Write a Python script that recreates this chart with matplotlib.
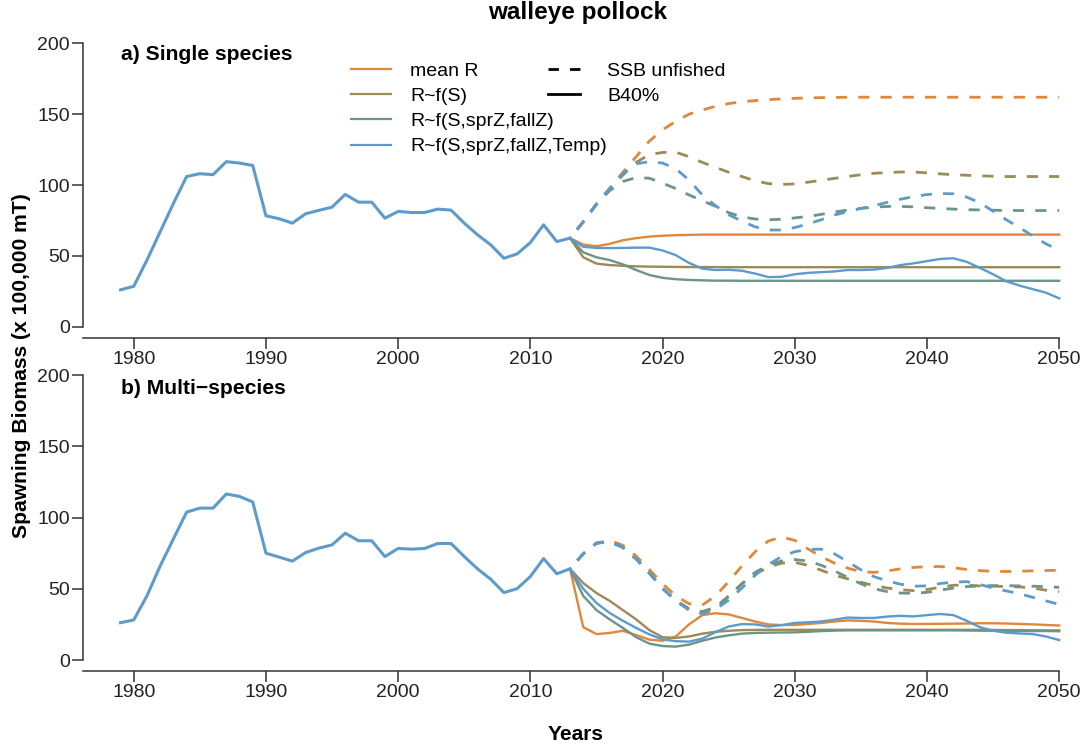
import matplotlib
matplotlib.use("Agg")
import matplotlib.pyplot as plt
from matplotlib.lines import Line2D

plt.rcParams["font.family"] = ["Liberation Sans", "DejaVu Sans"]
plt.rcParams["lines.scale_dashes"] = False

# ── data (spawning biomass, x 100,000 mT) ─────────────────────────────────────
HIST_YEARS = list(range(1979, 2014))
PROJ_YEARS = list(range(2013, 2051))

LABELS = ["mean R", "R~f(S)", "R~f(S,sprZ,fallZ)", "R~f(S,sprZ,fallZ,Temp)"]
COLORS = ["#E0883A", "#9C8A57", "#6C9488", "#5D9BCB"]

# a) single species
ss_hist = [26, 28.5, 47, 67, 87, 106, 108, 107.3, 116.5, 115.5,
           113.8, 78.3, 76.2, 73.1, 79.7, 82.1, 84.4, 93.4, 87.9, 87.9,
           76.6, 81.4, 80.6, 80.6, 83, 82.3, 73.1, 64.9, 57.8, 48.3,
           51.4, 59.4, 71.9, 60.1, 62.5]

ss_meanR_b40 = [62.5, 58, 56.8, 58.5, 61, 62.5, 63.6, 64.2, 64.6, 64.8,
                65, 65, 65, 65, 65, 65, 65, 65, 65, 65,
                65, 65, 65, 65, 65, 65, 65, 65, 65, 65,
                65, 65, 65, 65, 65, 65, 65, 65]
ss_rs_b40 = [62.5, 49, 44.5, 43.5, 43, 42.6, 42.4, 42.3, 42.2, 42.1,
             42.1, 42.1, 42, 42, 42, 42, 42, 42, 42, 42,
             42, 42, 42, 42, 42, 42, 42, 42, 42, 42,
             42, 42, 42, 42, 42, 42, 42, 42]
ss_rsz_b40 = [62.5, 52.5, 49, 47, 44, 40, 36.5, 34.5, 33.5, 33,
              32.7, 32.5, 32.5, 32.4, 32.4, 32.4, 32.4, 32.4, 32.4, 32.4,
              32.4, 32.4, 32.4, 32.4, 32.4, 32.4, 32.4, 32.4, 32.4, 32.4,
              32.4, 32.4, 32.4, 32.4, 32.4, 32.4, 32.4, 32.4]
ss_rszt_b40 = [62.5, 56.4, 55.6, 55.5, 55.6, 55.8, 55.8, 53.8, 50.5, 45,
               41, 40, 40.2, 39.5, 37.5, 35, 35.2, 37, 38, 38.5,
               39, 40, 40, 40.3, 41.5, 43.5, 44.7, 46.3, 47.8, 48.3,
               45.8, 41.5, 37, 32, 29, 26.5, 24, 20]

ss_meanR_unf = [62.5, 74, 86.5, 97.5, 109, 120, 131, 139, 145, 150,
                153, 155.5, 157.5, 158.8, 159.6, 160.3, 160.8, 161.2, 161.5, 161.7,
                161.8, 162, 162, 162, 162, 162, 162, 162, 162, 162,
                162, 162, 162, 162, 162, 162, 162, 162]
ss_rs_unf = [62.5, 74, 86.5, 97.5, 107, 116, 121.5, 123, 123.2, 120,
             116, 112.5, 109, 106, 103, 101, 100.4, 100.8, 102, 103.3,
             104.7, 106, 107.3, 108.3, 108.8, 109.2, 109.2, 108.6, 107.9, 107.3,
             106.9, 106.5, 106.2, 106, 106, 106, 106, 106]
ss_rsz_unf = [62.5, 74, 86.5, 96, 102.5, 105.3, 104.8, 101.3, 97.5, 93,
              89, 85, 80.5, 77.5, 76, 75.5, 75.8, 76.8, 77.8, 79.3,
              81, 82.3, 83.5, 84.4, 84.9, 84.9, 84.6, 84, 83.4, 83,
              82.6, 82.4, 82.2, 82.1, 82, 82, 82, 82]
ss_rszt_unf = [62.5, 74, 86.5, 97.5, 108.5, 115, 116.5, 115.5, 111.5, 103.5,
               93, 85.5, 79, 74.5, 70.5, 68.2, 68.3, 70, 72.5, 75.5,
               78.8, 81.3, 83.5, 85.5, 87.8, 90, 91.8, 93.3, 94, 93.8,
               91.5, 87.5, 81.5, 75.5, 70, 64, 58.5, 54]

# b) multi-species
ms_hist = [26.2, 28.1, 45, 66, 85, 103.8, 106.6, 106.6, 116.5, 114.8,
           110.9, 75, 72.2, 69.4, 75.4, 78.5, 80.8, 89, 83.7, 83.7,
           72.6, 78.3, 77.8, 78.3, 81.8, 81.8, 72.6, 64, 56.7, 47.3,
           50.1, 58.6, 71.2, 60.5, 64]

ms_meanR_b40 = [64, 23, 18.2, 19, 20.5, 17.5, 14.3, 13.5, 16.5, 25,
                31.5, 32.8, 32, 29.5, 27, 25, 24.5, 24.6, 25.3, 26,
                27, 27.8, 27.5, 27, 26, 25.5, 25.3, 25.3, 25.4, 25.5,
                25.6, 25.8, 25.8, 25.6, 25.3, 25, 24.6, 24.2]
ms_rs_b40 = [64, 54, 47, 41.5, 35, 28.5, 21, 16, 15.5, 16.5,
             18.5, 19.8, 20.5, 21, 21.1, 21.2, 21.2, 21.2, 21.2, 21.2,
             21.2, 21.2, 21.2, 21.2, 21.2, 21.2, 21.2, 21.2, 21.2, 21.2,
             21.2, 21.1, 21.1, 21, 21, 20.9, 20.8, 20.8]
ms_rsz_b40 = [64, 45, 35, 28.5, 22.5, 16, 11.5, 9.8, 9.4, 10.8,
              13.5, 15.8, 17.3, 18.5, 19, 19.2, 19.3, 19.4, 19.8, 20.3,
              20.6, 20.8, 20.8, 20.8, 20.8, 20.8, 20.8, 20.8, 20.8, 20.8,
              20.7, 20.6, 20.5, 20.4, 20.4, 20.3, 20.3, 20.2]
ms_rszt_b40 = [64, 50, 40, 33, 27.5, 22.5, 18, 14.5, 13.2, 12.9,
               15, 19.5, 23.5, 25.2, 25, 23.5, 24.5, 26, 26.5, 27,
               28.3, 29.8, 29.5, 29.5, 30.5, 31, 30.6, 31.5, 32.3, 31.5,
               27.5, 23, 20.5, 19.2, 18.6, 18.2, 16.5, 14]

ms_meanR_unf = [64, 74.5, 82, 84, 80.5, 73, 63.5, 53.5, 45, 39.5,
                38.5, 45, 55, 66, 76, 83.5, 86.3, 84, 78, 72.5,
                68, 64.5, 62, 61.5, 62.5, 64, 65, 65.5, 65.6, 64.8,
                63.5, 62.7, 62.3, 62.1, 62.3, 62.6, 62.8, 63]
ms_rs_unf = [64, 74.5, 82, 83.2, 79, 71, 61, 50.5, 42, 36,
             34, 37, 45, 53.5, 60.5, 65, 68, 68.5, 66.5, 63,
             59.5, 57, 54.5, 52.3, 50.5, 49.3, 48.7, 49.5, 51, 52.5,
             52.5, 52, 51.8, 51.6, 51.3, 50.5, 49, 48]
ms_rsz_unf = [64, 74.5, 82, 83, 79, 71, 61, 50, 41.5, 35.5,
              33.5, 36.5, 44.5, 53.5, 61.5, 66.5, 69.5, 70.5, 69.5, 66.5,
              62.5, 58, 53.5, 50, 48, 47, 46.8, 47.5, 49, 50.5,
              51.5, 52, 52.2, 52.2, 52, 51.8, 51.5, 51]
ms_rszt_unf = [64, 74.5, 82, 83, 79, 71, 61, 50.5, 41.5, 35,
               32.5, 35.5, 42, 50.5, 59.5, 67, 72.6, 76, 77.6, 77.8,
               74.5, 69, 63.3, 58.5, 55.5, 53.2, 51.8, 52, 53.7, 54.6,
               55, 53, 50.5, 48.5, 46.5, 44, 41.5, 39]

# ── figure ────────────────────────────────────────────────────────────────────
fig = plt.figure(figsize=(10.83, 7.47), dpi=100)
ax_a = fig.add_axes([0.0766, 0.5475, 0.9234, 0.4096])
ax_b = fig.add_axes([0.0766, 0.1012, 0.9234, 0.4120])

DASH = (8, (8, 8))
panels = [
    (ax_a, ss_hist, [ss_meanR_b40, ss_rs_b40, ss_rsz_b40, ss_rszt_b40],
     [ss_meanR_unf, ss_rs_unf, ss_rsz_unf, ss_rszt_unf]),
    (ax_b, ms_hist, [ms_meanR_b40, ms_rs_b40, ms_rsz_b40, ms_rszt_b40],
     [ms_meanR_unf, ms_rs_unf, ms_rsz_unf, ms_rszt_unf]),
]

for ax, hist, b40, unf in panels:
    for series, col in zip(b40, COLORS):
        ax.plot(PROJ_YEARS, series, color=col, lw=1.7, solid_joinstyle="round")
    for series, col in zip(unf, COLORS):
        ax.plot(PROJ_YEARS, series, color=col, lw=2.0, ls=DASH)
    ax.plot(HIST_YEARS, hist, color=COLORS[3], lw=2.2, solid_joinstyle="round")

    ax.set_xlim(1976.16, 2051.8)
    ax.set_ylim(-8, 208)
    ax.spines["top"].set_visible(False)
    ax.spines["right"].set_visible(False)
    ax.spines["left"].set_bounds(0, 200)
    ax.spines["bottom"].set_bounds(1976.16, 2050)
    for s in ("left", "bottom"):
        ax.spines[s].set_linewidth(1.1)
        ax.spines[s].set_color("#333333")
    ax.set_xticks(range(1980, 2051, 10))
    ax.set_yticks(range(0, 201, 50))
    ax.tick_params(length=8, width=1.1, color="#333333", labelsize=14,
                   labelcolor="#222222")
    ax.tick_params(axis="y", pad=1.5)
    ax.tick_params(axis="x", pad=1)
    ax.patch.set_visible(False)

fig.text(578 / 1083, 1 - 13 / 747, "walleye pollock", ha="center", va="center",
         fontsize=17.5, fontweight="bold")
fig.text(121 / 1083, 1 - 55 / 747, "a) Single species", ha="left", va="center",
         fontsize=15.2, fontweight="bold")
fig.text(121 / 1083, 1 - 388 / 747, "b) Multi\u2212species", ha="left", va="center",
         fontsize=15.2, fontweight="bold")
fig.text(576 / 1083, 1 - 735 / 747, "Years", ha="center", va="center",
         fontsize=15, fontweight="bold")
fig.text(22 / 1083, 1 - 366 / 747, "Spawning Biomass (x 100,000 mT)", ha="center",
         va="center", rotation=90, fontsize=15.2, fontweight="bold")

# ── legends ───────────────────────────────────────────────────────────────────
h1 = [Line2D([], [], color=c, lw=1.6) for c in COLORS]
leg1 = ax_a.legend(h1, LABELS, loc="upper left", frameon=False, fontsize=14,
                   bbox_to_anchor=(350.7 / 1083, 1 - 62.3 / 747),
                   bbox_transform=fig.transFigure, borderpad=0, borderaxespad=0,
                   handlelength=2.08, handletextpad=0.98, labelspacing=0.39)
ax_a.add_artist(leg1)
h2 = [Line2D([], [], color="black", lw=2.0, ls=(0, (7.5, 8))),
      Line2D([], [], color="black", lw=2.0)]
ax_a.legend(h2, ["SSB unfished", "B40%"], loc="upper left", frameon=False,
            fontsize=14, bbox_to_anchor=(547.6 / 1083, 1 - 62.3 / 747),
            bbox_transform=fig.transFigure, borderpad=0, borderaxespad=0,
            handlelength=1.65, handletextpad=1.41, labelspacing=0.39)

fig.savefig("out.png", dpi=100)
